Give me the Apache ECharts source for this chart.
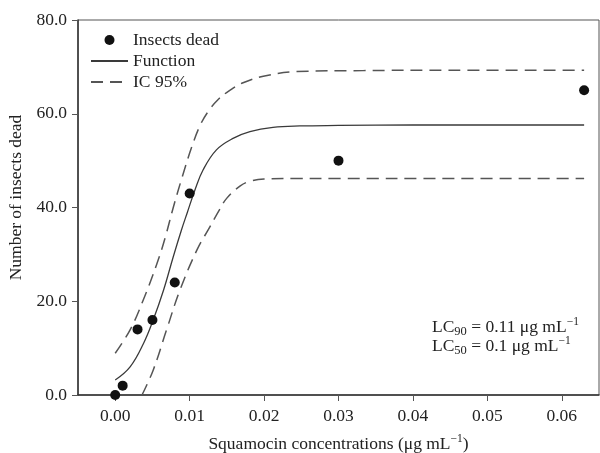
<!DOCTYPE html>
<html>
<head>
<meta charset="utf-8">
<script src="https://cdn.jsdelivr.net/npm/echarts@6/dist/echarts.min.js"></script>
<style>html,body{margin:0;padding:0;background:#fff}#c{width:600px;height:453px}</style>
</head>
<body>
<div id="c"></div>
<script>
// Observed data points
var insectsX = [0.000, 0.001, 0.003, 0.005, 0.008, 0.010, 0.030, 0.063];
var insectsY = [0, 2, 14, 16, 24, 43, 50, 65];

// Fitted function
var fnX = [0.0000, 0.0020, 0.0038, 0.0051, 0.0065, 0.0078, 0.0089, 0.0097, 0.0107, 0.0118, 0.0136, 0.0159, 0.0181, 0.0212, 0.0248, 0.0300, 0.0400, 0.0500, 0.0630];
var fnY = [3.2, 6.0, 11.0, 16.0, 22.4, 29.5, 35.2, 39.0, 43.7, 48.0, 52.3, 54.8, 56.2, 57.1, 57.4, 57.5, 57.6, 57.6, 57.6];

// Upper 95% band
var upX = [0.0000, 0.0020, 0.0037, 0.0056, 0.0067, 0.0078, 0.0090, 0.0103, 0.0114, 0.0125, 0.0138, 0.0154, 0.0170, 0.0199, 0.0244, 0.0333, 0.0450, 0.0630];
var upY = [8.9, 13.9, 20.0, 28.0, 33.5, 40.0, 46.5, 53.0, 57.5, 60.5, 63.0, 65.0, 66.5, 68.0, 69.0, 69.2, 69.3, 69.3];

// Lower 95% band
var loX = [0.0036, 0.0051, 0.0069, 0.0087, 0.0110, 0.0127, 0.0140, 0.0150, 0.0168, 0.0181, 0.0200, 0.0240, 0.0300, 0.0450, 0.0630];
var loY = [0.0, 5.3, 13.9, 22.4, 31.0, 35.8, 39.5, 42.0, 44.6, 45.6, 46.1, 46.2, 46.2, 46.2, 46.2];

// Tick labels
var xTicks = [0.00, 0.01, 0.02, 0.03, 0.04, 0.05, 0.06];

function zip(a, b) { return a.map(function (v, i) { return [v, b[i]]; }); }

var FONT = 'Liberation Serif';
var FS = 17.5;
var TXT = '#222';

var chart = echarts.init(document.getElementById('c'), null, { renderer: 'canvas' });
chart.setOption({
  animation: false,
  backgroundColor: '#fff',
  textStyle: { fontFamily: FONT, color: TXT },
  grid: {
    left: 78, top: 20, right: 1, bottom: 58, containLabel: false, outerBoundsMode: 'none',
    show: true, borderColor: '#555', borderWidth: 1, backgroundColor: 'transparent'
  },
  legend: {
    orient: 'vertical', left: 85, top: 26, itemWidth: 37, itemHeight: 10, itemGap: 3,
    textStyle: { fontFamily: FONT, fontSize: FS, color: TXT },
    data: [
      { name: 'Insects dead', icon: 'circle' },
      { name: 'Function', itemStyle: { opacity: 0 } },
      { name: 'IC 95%', itemStyle: { opacity: 0 } }
    ],
    selectedMode: false
  },
  xAxis: {
    type: 'value', min: -0.005, max: 0.065,
    name: '{a|Squamocin concentrations (μg mL}{s|−1}{a|)}',
    nameLocation: 'middle', nameGap: 38,
    nameTextStyle: {
      rich: {
        a: { fontFamily: FONT, fontSize: FS, color: TXT },
        s: { fontFamily: FONT, fontSize: 11.5, color: TXT, padding: [0, 0, 10, 0] }
      }
    },
    axisLine: { show: true, onZero: false, lineStyle: { color: '#333', width: 1.5 } },
    axisTick: { show: true, inside: false, length: 6, customValues: xTicks, lineStyle: { color: '#555' } },
    axisLabel: { customValues: xTicks, margin: 12, fontFamily: FONT, fontSize: FS, color: TXT, formatter: function (v) { return v.toFixed(2); } },
    splitLine: { show: false }
  },
  yAxis: {
    type: 'value', min: 0, max: 80, interval: 20,
    name: 'Number of insects dead', nameLocation: 'middle', nameGap: 53,
    nameTextStyle: { fontFamily: FONT, fontSize: FS, color: TXT, padding: [0, 0, 0, 20] },
    axisLine: { show: true, onZero: false, lineStyle: { color: '#333', width: 1.5 } },
    axisTick: { show: true, inside: false, length: 6, lineStyle: { color: '#555' } },
    axisLabel: { margin: 11, fontFamily: FONT, fontSize: FS, color: TXT, formatter: function (v) { return v.toFixed(1); } },
    splitLine: { show: false }
  },
  series: [
    {
      name: 'Insects dead', type: 'scatter', symbol: 'circle', symbolSize: 10,
      itemStyle: { color: '#111', opacity: 1 }, data: zip(insectsX, insectsY), z: 5
    },
    {
      name: 'Function', type: 'line', symbol: 'none', smooth: 0.4,
      lineStyle: { color: '#3a3a3a', width: 1.3, type: 'solid' },
      itemStyle: { color: '#3a3a3a' },
      data: zip(fnX, fnY)
    },
    {
      name: 'IC 95%', type: 'line', symbol: 'none', smooth: 0.4,
      lineStyle: { color: '#555', width: 1.5, type: [12, 7] },
      itemStyle: { color: '#555' },
      data: zip(upX, upY)
    },
    {
      name: 'IC 95%', type: 'line', symbol: 'none', smooth: 0.4,
      lineStyle: { color: '#555', width: 1.5, type: [12, 7] },
      itemStyle: { color: '#555' },
      data: zip(loX, loY)
    }
  ],
  graphic: [
    {
      type: 'text', left: 432, top: 316, z: 10,
      style: {
        text: '{n|LC}{b|90}{n| = 0.11 μg mL}{s|−1}\n{n|LC}{b|50}{n| = 0.1 μg mL}{s|−1}',
        fill: TXT,
        rich: {
          n: { fontFamily: FONT, fontSize: FS, fill: TXT, lineHeight: 19 },
          b: { fontFamily: FONT, fontSize: 12.5, fill: TXT, padding: [9, 0, 0, 0], lineHeight: 19 },
          s: { fontFamily: FONT, fontSize: 11.5, fill: TXT, padding: [0, 0, 10, 0], lineHeight: 19 }
        }
      }
    }
  ]
});
</script>
</body>
</html>
